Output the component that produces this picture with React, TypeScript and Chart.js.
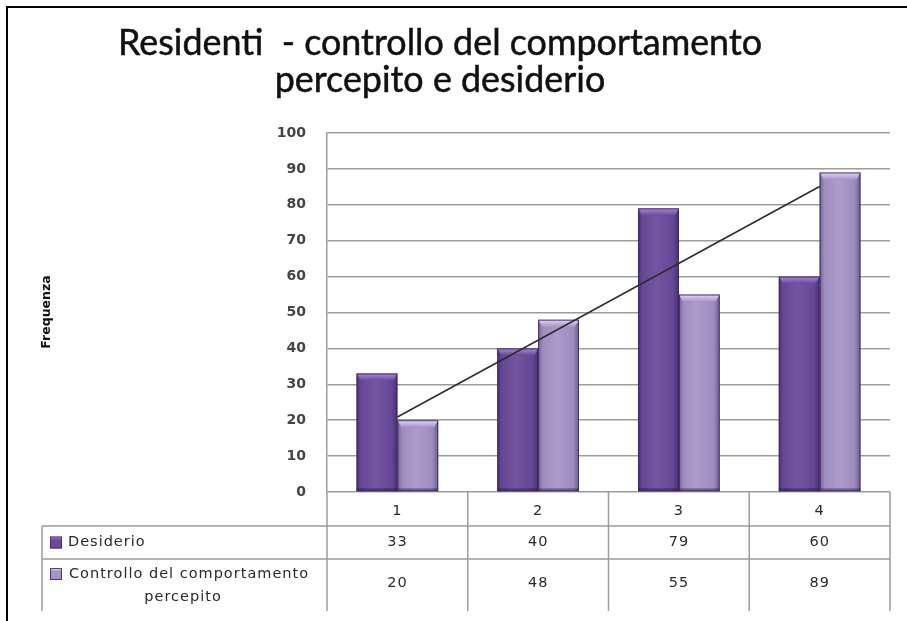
import React, { useEffect, useRef } from "react";
import { Chart, registerables } from "chart.js";

Chart.register(...registerables);

const categories = ["1", "2", "3", "4"];
const desiderio = [33, 40, 79, 60];
const controllo = [20, 48, 55, 89];
const trendLine: (number | null)[] = [20.9, null, null, 85.1];
const seriesNames = ["Desiderio", "Controllo del comportamento percepito"];
const rowLabelLines = [["Desiderio"], ["Controllo del comportamento", "percepito"]];
const titleLines = ["Residenti  - controllo del comportamento", "percepito e desiderio"];
const yAxisTitle = "Frequenza";
const yMin = 0;
const yMax = 100;
const yStep = 10;

const DARK = "#6a4b9b";
const DARK_CAP = "#a98ad8";
const LIGHT = "#a694c7";
const LIGHT_CAP = "#e4d6f7";
const GRID = "#9c9c9c";

const decorPlugin = {
  id: "decor",
  beforeDraw(chart: any) {
    const ctx = chart.ctx;
    ctx.save();
    ctx.fillStyle = "#ffffff";
    ctx.fillRect(0, 0, chart.width, chart.height);
    // frame
    ctx.fillStyle = "#000000";
    ctx.fillRect(6, 6, 2, chart.height - 6);
    ctx.fillRect(6, 6, chart.width - 6, 2);
    // title
    ctx.fillStyle = "#111111";
    ctx.strokeStyle = "#111111";
    ctx.lineWidth = 0.5;
    ctx.font = "400 37px Lato, 'Open Sans', sans-serif";
    ctx.textAlign = "center";
    ctx.textBaseline = "alphabetic";
    const w1 = ctx.measureText(titleLines[0]).width;
    const sx = 644 / w1;
    const baselines = [55, 92];
    titleLines.forEach((line, i) => {
      ctx.save();
      ctx.translate(440, baselines[i]);
      ctx.scale(sx, 1);
      ctx.fillText(line, 0, 0);
      ctx.strokeText(line, 0, 0);
      ctx.restore();
    });
    // y axis title
    ctx.save();
    ctx.translate(47, 312);
    ctx.rotate(-Math.PI / 2);
    ctx.font = "bold 12.5px 'DejaVu Sans', sans-serif";
    ctx.fillStyle = "#111111";
    ctx.textAlign = "center";
    ctx.textBaseline = "middle";
    ctx.fillText(yAxisTitle, 0, 0);
    ctx.restore();
    ctx.restore();
  },
  afterDatasetDraw(chart: any, args: any) {
    const meta = args.meta;
    if (meta.type !== "bar") return;
    const ctx = chart.ctx;
    const cap = args.index === 0 ? DARK_CAP : LIGHT_CAP;
    const base = args.index === 0 ? DARK : LIGHT;
    ctx.save();
    meta.data.forEach((el: any) => {
      const p = el.getProps(["x", "y", "base", "width"], true);
      const l = p.x - p.width / 2;
      const r = p.x + p.width / 2;
      const t = Math.min(p.y, p.base);
      const b = Math.max(p.y, p.base);
      const g = ctx.createLinearGradient(l, 0, r, 0);
      g.addColorStop(0, "rgba(30,10,60,0.35)");
      g.addColorStop(0.12, "rgba(30,10,60,0.05)");
      g.addColorStop(0.45, "rgba(255,255,255,0.06)");
      g.addColorStop(0.85, "rgba(30,10,60,0.05)");
      g.addColorStop(1, "rgba(30,10,60,0.4)");
      ctx.fillStyle = g;
      ctx.fillRect(l, t, r - l, b - t);
      // top cap bevel
      const ch = 7;
      const cg = ctx.createLinearGradient(0, t, 0, t + ch);
      cg.addColorStop(0, cap);
      cg.addColorStop(1, base);
      ctx.fillStyle = cg;
      ctx.beginPath();
      ctx.moveTo(l, t);
      ctx.lineTo(r, t);
      ctx.lineTo(r - 4, t + ch);
      ctx.lineTo(l + 4, t + ch);
      ctx.closePath();
      ctx.fill();
      // bottom shade
      ctx.fillStyle = "rgba(30,10,60,0.35)";
      ctx.fillRect(l, b - 3, r - l, 3);
      // outline
      ctx.strokeStyle = "rgba(55,35,85,0.85)";
      ctx.lineWidth = 1;
      ctx.strokeRect(l + 0.5, t + 0.5, r - l - 1, b - t - 1);
    });
    ctx.restore();
  },
  afterDraw(chart: any) {
    const ctx = chart.ctx;
    const area = chart.chartArea;
    const xs = chart.scales.x;
    const colW = (area.right - area.left) / categories.length;
    const tableLeft = 42;
    const y0 = area.bottom;
    const y1 = y0 + 34;
    const y2 = y1 + 33;
    const y3 = y2 + 52;
    ctx.save();
    ctx.strokeStyle = GRID;
    ctx.lineWidth = 1.5;
    ctx.beginPath();
    ctx.moveTo(tableLeft, y1);
    ctx.lineTo(area.right, y1);
    ctx.moveTo(tableLeft, y2);
    ctx.lineTo(area.right, y2);
    for (let k = 0; k <= categories.length; k++) {
      const x = area.left + k * colW;
      ctx.moveTo(x, y0);
      ctx.lineTo(x, y3);
    }
    ctx.moveTo(tableLeft, y1);
    ctx.lineTo(tableLeft, y3);
    ctx.stroke();

    ctx.font = "14.5px 'DejaVu Sans', sans-serif";
    (ctx as any).letterSpacing = "1px";
    ctx.fillStyle = "#2a2a2a";
    ctx.textAlign = "center";
    ctx.textBaseline = "middle";
    categories.forEach((c, i) => {
      const x = xs.getPixelForValue(i);
      ctx.fillText(c, x, (y0 + y1) / 2 + 2);
      ctx.fillText(String(desiderio[i]), x, (y1 + y2) / 2);
      ctx.fillText(String(controllo[i]), x, (y2 + y3) / 2 - 2);
    });

    // row labels with legend markers
    const markers = [
      { y: (y1 + y2) / 2, color: DARK, cap: DARK_CAP },
      { y: y2 + 15, color: LIGHT, cap: LIGHT_CAP },
    ];
    markers.forEach((m) => {
      const g = ctx.createLinearGradient(0, m.y - 6, 0, m.y + 6);
      g.addColorStop(0, m.cap);
      g.addColorStop(0.3, m.color);
      g.addColorStop(1, m.color);
      ctx.fillStyle = g;
      ctx.fillRect(50, m.y - 6, 12, 12);
      ctx.strokeStyle = "rgba(55,35,85,0.8)";
      ctx.lineWidth = 1;
      ctx.strokeRect(50.5, m.y - 5.5, 11, 11);
    });
    ctx.fillStyle = "#2a2a2a";
    ctx.textAlign = "left";
    ctx.fillText(rowLabelLines[0][0], 68, markers[0].y);
    const lw = ctx.measureText(rowLabelLines[1][0]).width;
    ctx.fillText(rowLabelLines[1][0], 69, markers[1].y);
    ctx.textAlign = "center";
    ctx.fillText(rowLabelLines[1][1], 69 + lw / 2 - 6, markers[1].y + 23);
    ctx.restore();
  },
};

export default function App() {
  const ref = useRef<HTMLCanvasElement | null>(null);
  useEffect(() => {
    if (!ref.current) return;
    const chart = new Chart(ref.current, {
      type: "bar",
      data: {
        labels: categories,
        datasets: [
          {
            type: "bar",
            label: seriesNames[0],
            data: desiderio,
            backgroundColor: DARK,
            borderWidth: 0,
            categoryPercentage: 0.58,
            barPercentage: 1,
            order: 1,
          },
          {
            type: "bar",
            label: seriesNames[1],
            data: controllo,
            backgroundColor: LIGHT,
            borderWidth: 0,
            categoryPercentage: 0.58,
            barPercentage: 1,
            order: 1,
          },
          {
            type: "line",
            label: "Tendenza",
            data: trendLine,
            borderColor: "#2b2b2b",
            borderWidth: 1.5,
            pointRadius: 0,
            spanGaps: true,
            fill: false,
            tension: 0,
            order: 0,
          },
        ] as any,
      },
      options: {
        responsive: false,
        animation: false,
        layout: { padding: { left: 0, right: 17, top: 133, bottom: 129 } },
        plugins: {
          legend: { display: false },
          title: { display: false },
          tooltip: { enabled: false },
        },
        scales: {
          x: { display: false, offset: true },
          y: {
            min: yMin,
            max: yMax,
            ticks: {
              stepSize: yStep,
              padding: 21,
              color: "#444444",
              font: { family: "'DejaVu Sans', sans-serif", size: 14, weight: "bold" },
            },
            grid: { color: GRID, lineWidth: 1.5, drawTicks: false },
            border: { color: GRID, width: 1.5 },
            afterFit: (s: any) => {
              s.width = 327;
            },
          },
        },
      } as any,
      plugins: [decorPlugin],
    });
    return () => chart.destroy();
  }, []);
  return (
    <div style={{ position: "fixed", left: 0, top: 0, width: 907, height: 621 }}>
      <canvas ref={ref} width={907} height={621} style={{ display: "block" }} />
    </div>
  );
}
